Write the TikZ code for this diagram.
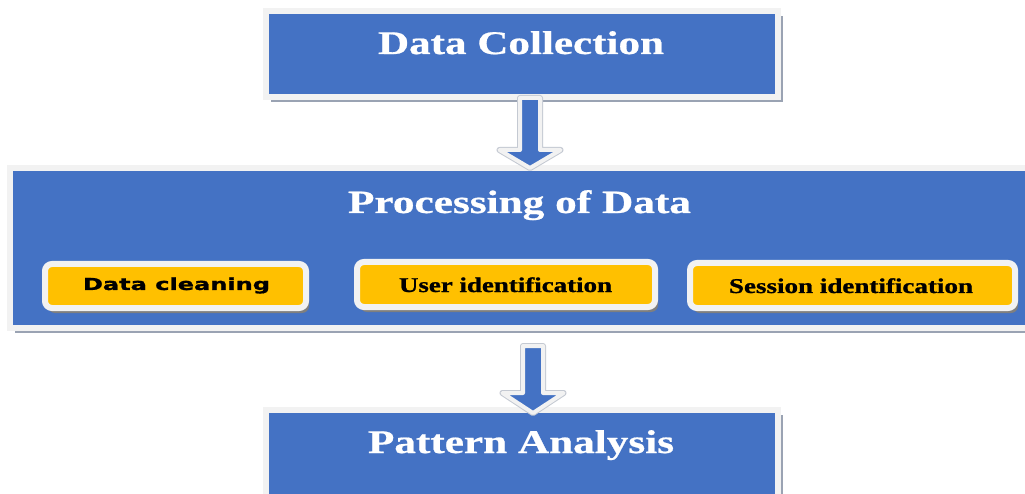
\documentclass[tikz,border=0pt]{standalone}
\usepackage{fontspec}
\usepackage{graphicx}
\usetikzlibrary{calc,shadows}
\newfontfamily\titlefont{Liberation Serif}[BoldFeatures={FakeBold=0.6}]
\newfontfamily\subfont{Liberation Serif}[BoldFeatures={FakeBold=1.0}]
\newfontfamily\dcfont{DejaVu Sans}[BoldFeatures={FakeBold=1.0}]
\definecolor{boxblue}{HTML}{4472C4}
\definecolor{boxyellow}{HTML}{FFC000}
\definecolor{rim}{HTML}{F2F2F2}
\definecolor{shadowgray}{HTML}{9AA3B3}
\definecolor{subshadow}{HTML}{7F7F7F}
\definecolor{arrowedgec}{HTML}{C4C9D2}
\tikzset{
  bluebox/.style={rectangle, fill=boxblue, draw=rim, line width=6pt, inner sep=0pt,
    drop shadow={shadow xshift=5pt, shadow yshift=-5pt, fill=shadowgray, opacity=1}},
  subbox/.style={rectangle, rounded corners=7pt, fill=boxyellow, draw=rim, line width=6pt, inner sep=0pt,
    drop shadow={shadow xshift=3pt, shadow yshift=-5pt, fill=subshadow, opacity=1}},
  titletext/.style={text=white, inner sep=0pt, anchor=base},
  subtext/.style={text=black, inner sep=0pt, anchor=base},
  arrowbody/.style={preaction={draw=arrowedgec, line width=6pt, line join=round},
    fill=boxblue, draw=rim, line width=4pt, line join=round},
}
\begin{document}
\begin{tikzpicture}[x=1pt,y=1pt]
\useasboundingbox (0,0) rectangle (1025,-494);
\clip (0,0) rectangle (1025,-494);
\fill[white] (0,0) rectangle (1025,-494);
% main boxes
\node[bluebox, minimum width=512pt, minimum height=86pt] (dc) at (522,-54) {};
\node[titletext, font=\titlefont\bfseries\fontsize{33}{33}\selectfont] (dct) at (521,-54)
  {\resizebox{286pt}{\height}{Data Collection}};
\node[bluebox, minimum width=1021pt, minimum height=160pt] (proc) at (520.5,-248) {};
\node[titletext, font=\titlefont\bfseries\fontsize{32.5}{32.5}\selectfont] (proct) at (519.5,-213)
  {\resizebox{343pt}{\height}{Processing of Data}};
\node[bluebox, minimum width=512pt, minimum height=90pt] (pa) at (522,-455) {};
\node[titletext, font=\titlefont\bfseries\fontsize{33}{33}\selectfont] (pat) at (521,-453)
  {\resizebox{306pt}{\height}{Pattern Analysis}};
% sub steps
\node[subbox, minimum width=261pt, minimum height=44pt] (clean) at (175.5,-286) {};
\node[subtext, font=\dcfont\bfseries\fontsize{16.5}{16.5}\selectfont] (cleant) at (176.5,-290)
  {\resizebox{187pt}{\height}{Data cleaning}};
\node[subbox, minimum width=298pt, minimum height=45pt] (user) at (506,-284.5) {};
\node[subtext, font=\subfont\bfseries\fontsize{21}{21}\selectfont] (usert) at (505.5,-292)
  {\resizebox{213pt}{\height}{User identification}};
\node[subbox, minimum width=325pt, minimum height=45pt] (sess) at (852.5,-285.5) {};
\node[subtext, font=\subfont\bfseries\fontsize{21}{21}\selectfont] (sesst) at (851,-293)
  {\resizebox{244pt}{\height}{Session identification}};
% block arrows
\coordinate (a1s) at ($(dc.south)+(8,2)$);
\coordinate (a1t) at ($(a1s |- proc.north)+(0,-3)$);
\coordinate (a2s) at ($(proc.south -| pa.north)+(11,-15)$);
\coordinate (a2t) at ($(a2s |- pa.north)+(0,-6)$);
\path[arrowbody] ($(a1s)+(-10,0)$) -- ($(a1t)+(-10,18)$) -- ($(a1t)+(-30.5,18)$) -- (a1t)
  -- ($(a1t)+(30.5,18)$) -- ($(a1t)+(10,18)$) -- ($(a1s)+(10,0)$) -- cycle;
\path[arrowbody] ($(a2s)+(-10,0)$) -- ($(a2t)+(-10,20)$) -- ($(a2t)+(-30.5,20)$) -- (a2t)
  -- ($(a2t)+(30.5,20)$) -- ($(a2t)+(10,20)$) -- ($(a2s)+(10,0)$) -- cycle;
\end{tikzpicture}
\end{document}
